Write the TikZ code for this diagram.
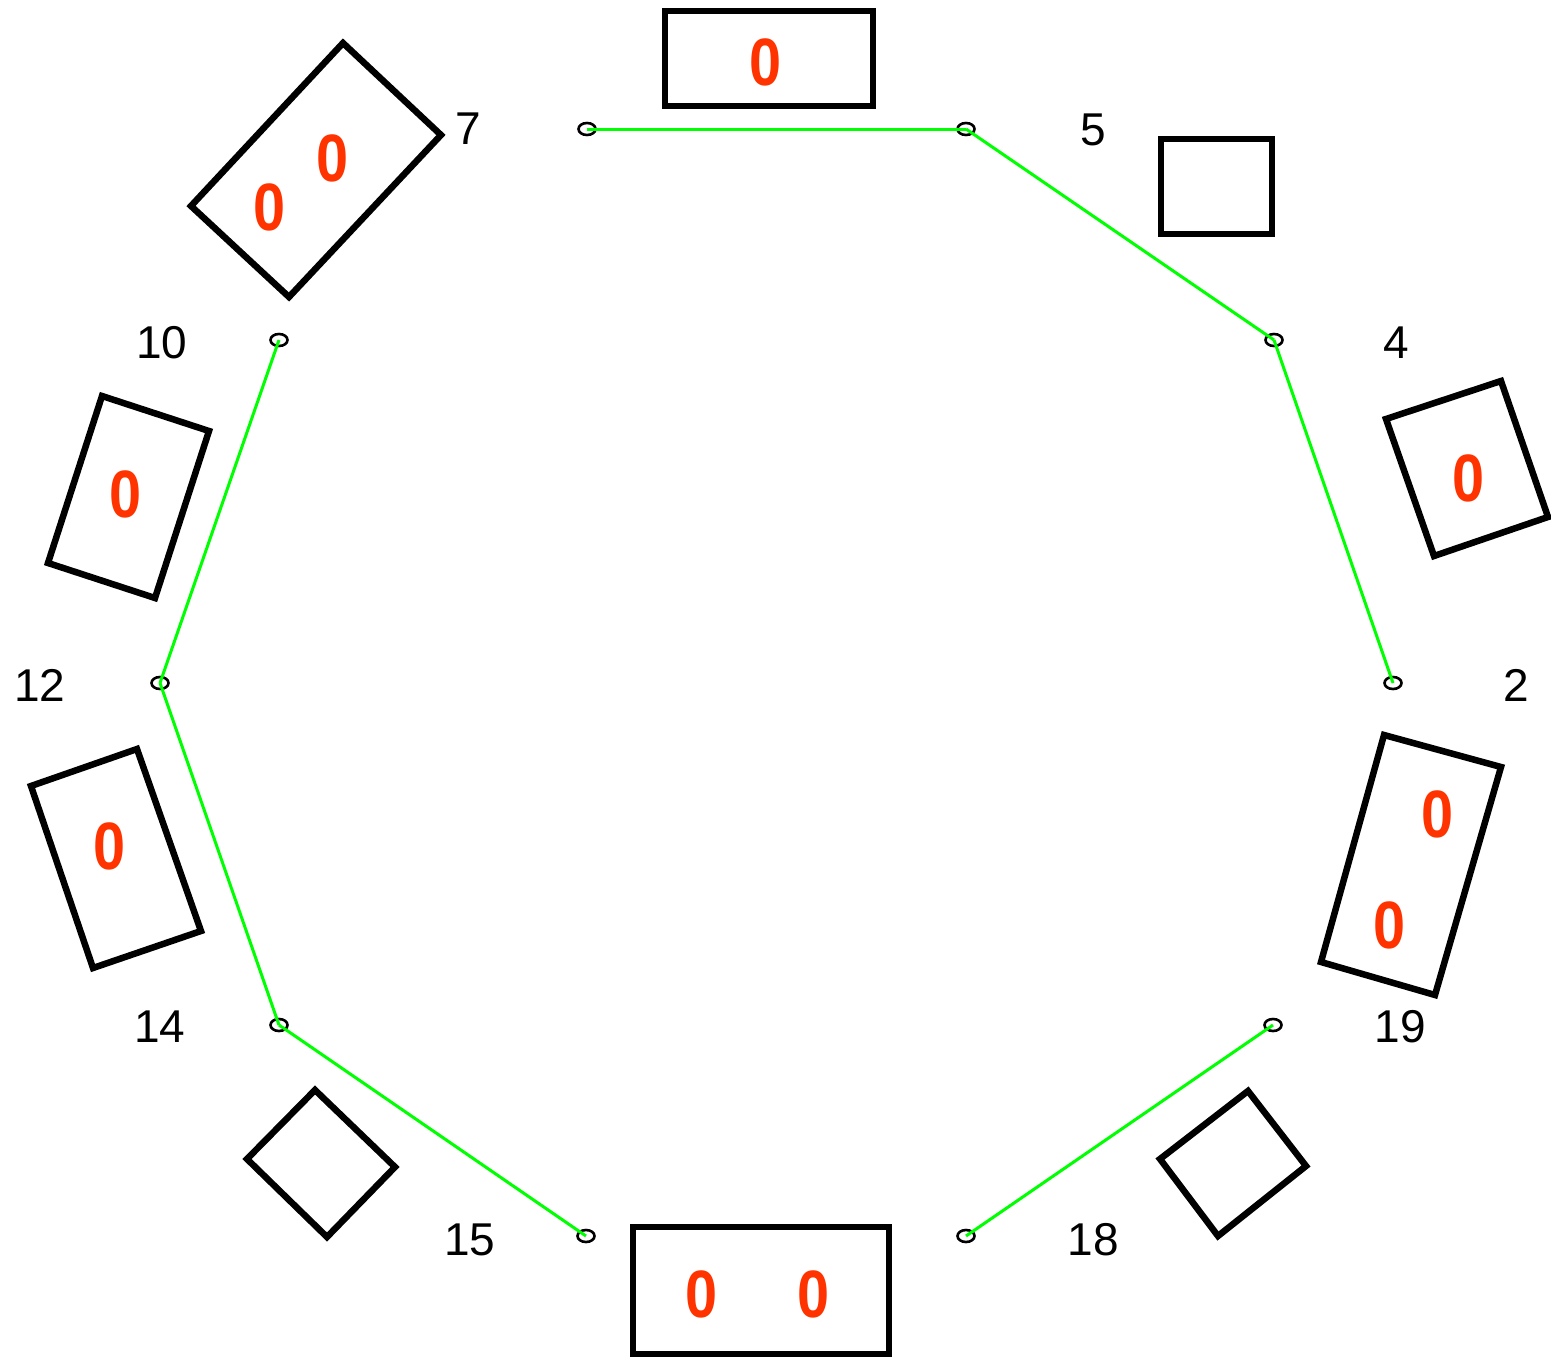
\documentclass[tikz,border=0pt]{standalone}
\usepackage{fontspec}
\setmainfont{Liberation Sans}
\usetikzlibrary{shapes.geometric}
\definecolor{zred}{HTML}{FF3300}
\definecolor{lgreen}{HTML}{00FF00}
\begin{document}
\begin{tikzpicture}[x=1pt,y=-1pt,
  pt/.style={ellipse,draw=black,line width=2.6pt,inner sep=0pt,minimum width=17pt,minimum height=12pt},
  lab/.style={font=\fontsize{46}{46}\selectfont,inner sep=0pt,text=black},
  zero/.style={font=\fontsize{67}{67}\selectfont\bfseries,text=zred,inner sep=0pt,xscale=0.86},
  box/.style={draw=black,line width=6.5pt,line join=miter},
  link/.style={draw=lgreen,line width=3pt}]
\useasboundingbox (0,0) rectangle (1551,1357);
% boxes
\draw[box] (665,11) rectangle (873,106);
\draw[box] (1161,139) rectangle (1272,234);
\draw[box] (343,43) -- (441,135) -- (289,297) -- (191,206) -- cycle;
\draw[box] (1386,419) -- (1501,381) -- (1548,517) -- (1434,556) -- cycle;
\draw[box] (102,396) -- (209,431) -- (155,598) -- (48,563) -- cycle;
\draw[box] (31,786) -- (137,749) -- (201,931) -- (93,968) -- cycle;
\draw[box] (1384,735) -- (1501,767) -- (1435,995) -- (1321,962) -- cycle;
\draw[box] (315,1090) -- (395,1167) -- (327,1237) -- (247,1159) -- cycle;
\draw[box] (1160,1159) -- (1248,1091) -- (1306,1166) -- (1218,1236) -- cycle;
\draw[box] (633,1227) rectangle (889,1354);
% zeros
\node[zero] (z1) at (766,62) {0};
\node[zero] (z2) at (333,158) {0};
\node[zero] (z3) at (270,207) {0};
\node[zero] (z4) at (1469,478) {0};
\node[zero] (z5) at (126,494) {0};
\node[zero] (z6) at (110,846) {0};
\node[zero] (z7) at (1438,814) {0};
\node[zero] (z8) at (1390,925) {0};
\node[zero] (z9) at (702,1294) {0};
\node[zero] (z10) at (814,1294) {0};
% points
\node[pt] (p7) at (587,129) {};
\node[pt] (p5) at (966,129) {};
\node[pt] (p4) at (1274,340) {};
\node[pt] (p2) at (1393,683) {};
\node[pt] (p19) at (1273,1025) {};
\node[pt] (p18) at (966,1236) {};
\node[pt] (p15) at (586,1236) {};
\node[pt] (p14) at (279,1025) {};
\node[pt] (p12) at (160,683) {};
\node[pt] (p10) at (279,340) {};
% labels
\node[lab] (l7) at (468,129) {7};
\node[lab] (l5) at (1093,130) {5};
\node[lab] (l4) at (1396,343) {4};
\node[lab] (l2) at (1516,685) {2};
\node[lab] (l19) at (1400,1027) {19};
\node[lab] (l18) at (1093,1240) {18};
\node[lab] (l15) at (470,1240) {15};
\node[lab] (l14) at (160,1027) {14};
\node[lab] (l12) at (40,685) {12};
\node[lab] (l10) at (162,343) {10};
% links
\draw[link] (p7.center) -- (p5.center);
\draw[link] (p5.center) -- (p4.center);
\draw[link] (p4.center) -- (p2.center);
\draw[link] (p19.center) -- (p18.center);
\draw[link] (p10.center) -- (p12.center);
\draw[link] (p12.center) -- (p14.center);
\draw[link] (p14.center) -- (p15.center);
\end{tikzpicture}
\end{document}
